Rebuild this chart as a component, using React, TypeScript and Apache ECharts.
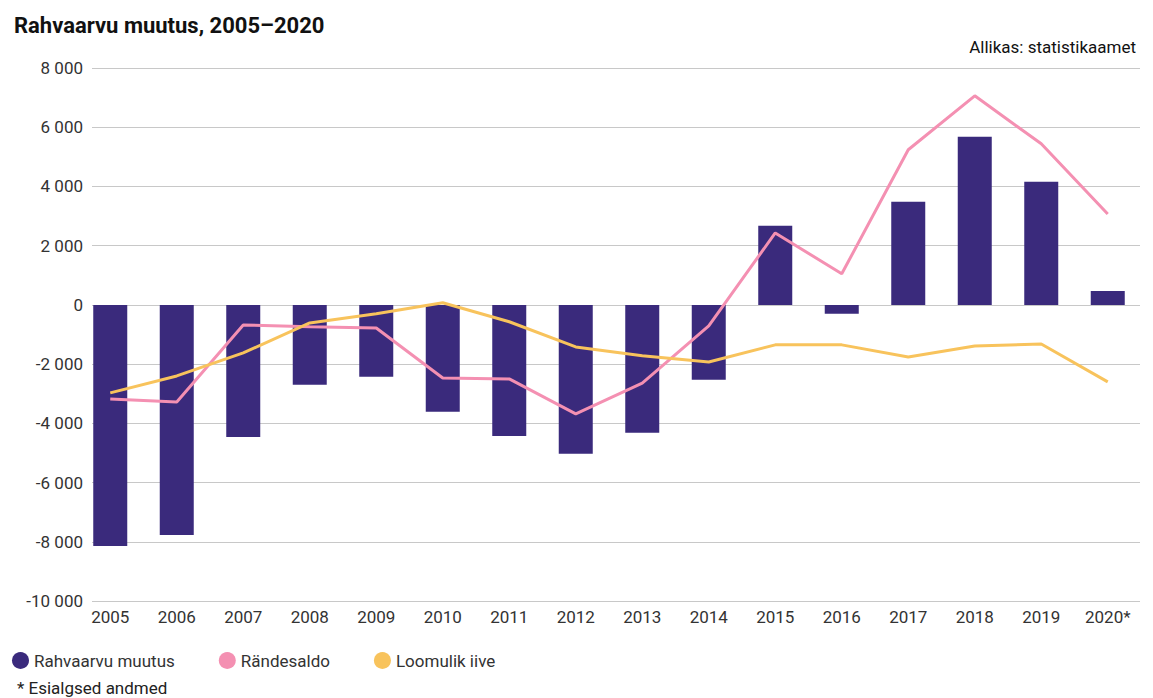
import { useEffect, useRef } from "react";
import * as echarts from "echarts";

const years = ["2005", "2006", "2007", "2008", "2009", "2010", "2011", "2012", "2013", "2014", "2015", "2016", "2017", "2018", "2019", "2020*"];
const rahvaarvuMuutus = [-8140, -7770, -4460, -2700, -2430, -3610, -4430, -5030, -4320, -2530, 2670, -300, 3480, 5680, 4160, 470];
const randesaldo = [-3180, -3280, -680, -740, -780, -2470, -2500, -3680, -2640, -710, 2430, 1050, 5240, 7060, 5440, 3070];
const loomulikIive = [-2970, -2400, -1620, -610, -300, 70, -570, -1420, -1720, -1930, -1350, -1350, -1760, -1390, -1320, -2600];

const fmt = (v: number) => {
  const s = Math.abs(v).toString().replace(/\B(?=(\d{3})+(?!\d))/g, " ");
  return (v < 0 ? "-" : "") + s;
};

export default function App() {
  const ref = useRef<HTMLDivElement>(null);

  useEffect(() => {
    document.body.style.margin = "0";
    if (!ref.current) return;
    const chart = echarts.init(ref.current, undefined, { renderer: "svg" });
    const font = "Roboto, sans-serif";
    chart.setOption({
      animation: false,
      backgroundColor: "#fff",
      textStyle: { fontFamily: font },
      title: [
        { text: "Rahvaarvu muutus, 2005–2020", left: 9, top: 9, textStyle: { fontSize: 22, fontWeight: "bold", color: "#111", fontFamily: font } },
        { text: "Allikas: statistikaamet", right: 12, top: 33, textStyle: { fontSize: 17, fontWeight: "normal", color: "#111", fontFamily: font } },
        { text: "* Esialgsed andmed", left: 12, top: 674, textStyle: { fontSize: 17, fontWeight: "normal", color: "#222", fontFamily: font } },
      ],
      legend: {
        left: 7, top: 647, icon: "circle", itemWidth: 17, itemHeight: 17, itemGap: 44,
        textStyle: { fontSize: 17, color: "#333", fontFamily: font },
        data: ["Rahvaarvu muutus", "Rändesaldo", "Loomulik iive"],
      },
      grid: [
        { left: 77, right: 12, top: 68, bottom: 97 },
        { left: 92, right: 13, top: 68, bottom: 97 },
      ],
      xAxis: [
        {
          type: "category", data: years, gridIndex: 0,
          axisLine: { show: false }, axisTick: { show: false },
          axisLabel: { fontSize: 17, color: "#333", margin: 7 },
        },
        { type: "category", data: years, gridIndex: 1, show: false },
      ],
      yAxis: [
        { type: "value", gridIndex: 0, min: -10000, max: 8000, interval: 2000, show: false, splitLine: { show: false } },
        {
          type: "value", gridIndex: 1, min: -10000, max: 8000, interval: 2000,
          axisLabel: { fontSize: 17, color: "#333", formatter: fmt, margin: 9 },
          splitLine: { lineStyle: { color: "#c8c8c8" } },
        },
      ],
      series: [
        { name: "Rahvaarvu muutus", type: "bar", data: rahvaarvuMuutus, barWidth: 34, itemStyle: { color: "#3a2a7c" }, z: 3 },
        { name: "Rändesaldo", type: "line", data: randesaldo, symbol: "none", lineStyle: { width: 3, color: "#f490b2" }, itemStyle: { color: "#f490b2" }, z: 4 },
        { name: "Loomulik iive", type: "line", data: loomulikIive, symbol: "none", lineStyle: { width: 3, color: "#f8c35c" }, itemStyle: { color: "#f8c35c" }, z: 4 },
      ],
    });
    return () => chart.dispose();
  }, []);

  return <div ref={ref} style={{ width: 1153, height: 698 }} />;
}
